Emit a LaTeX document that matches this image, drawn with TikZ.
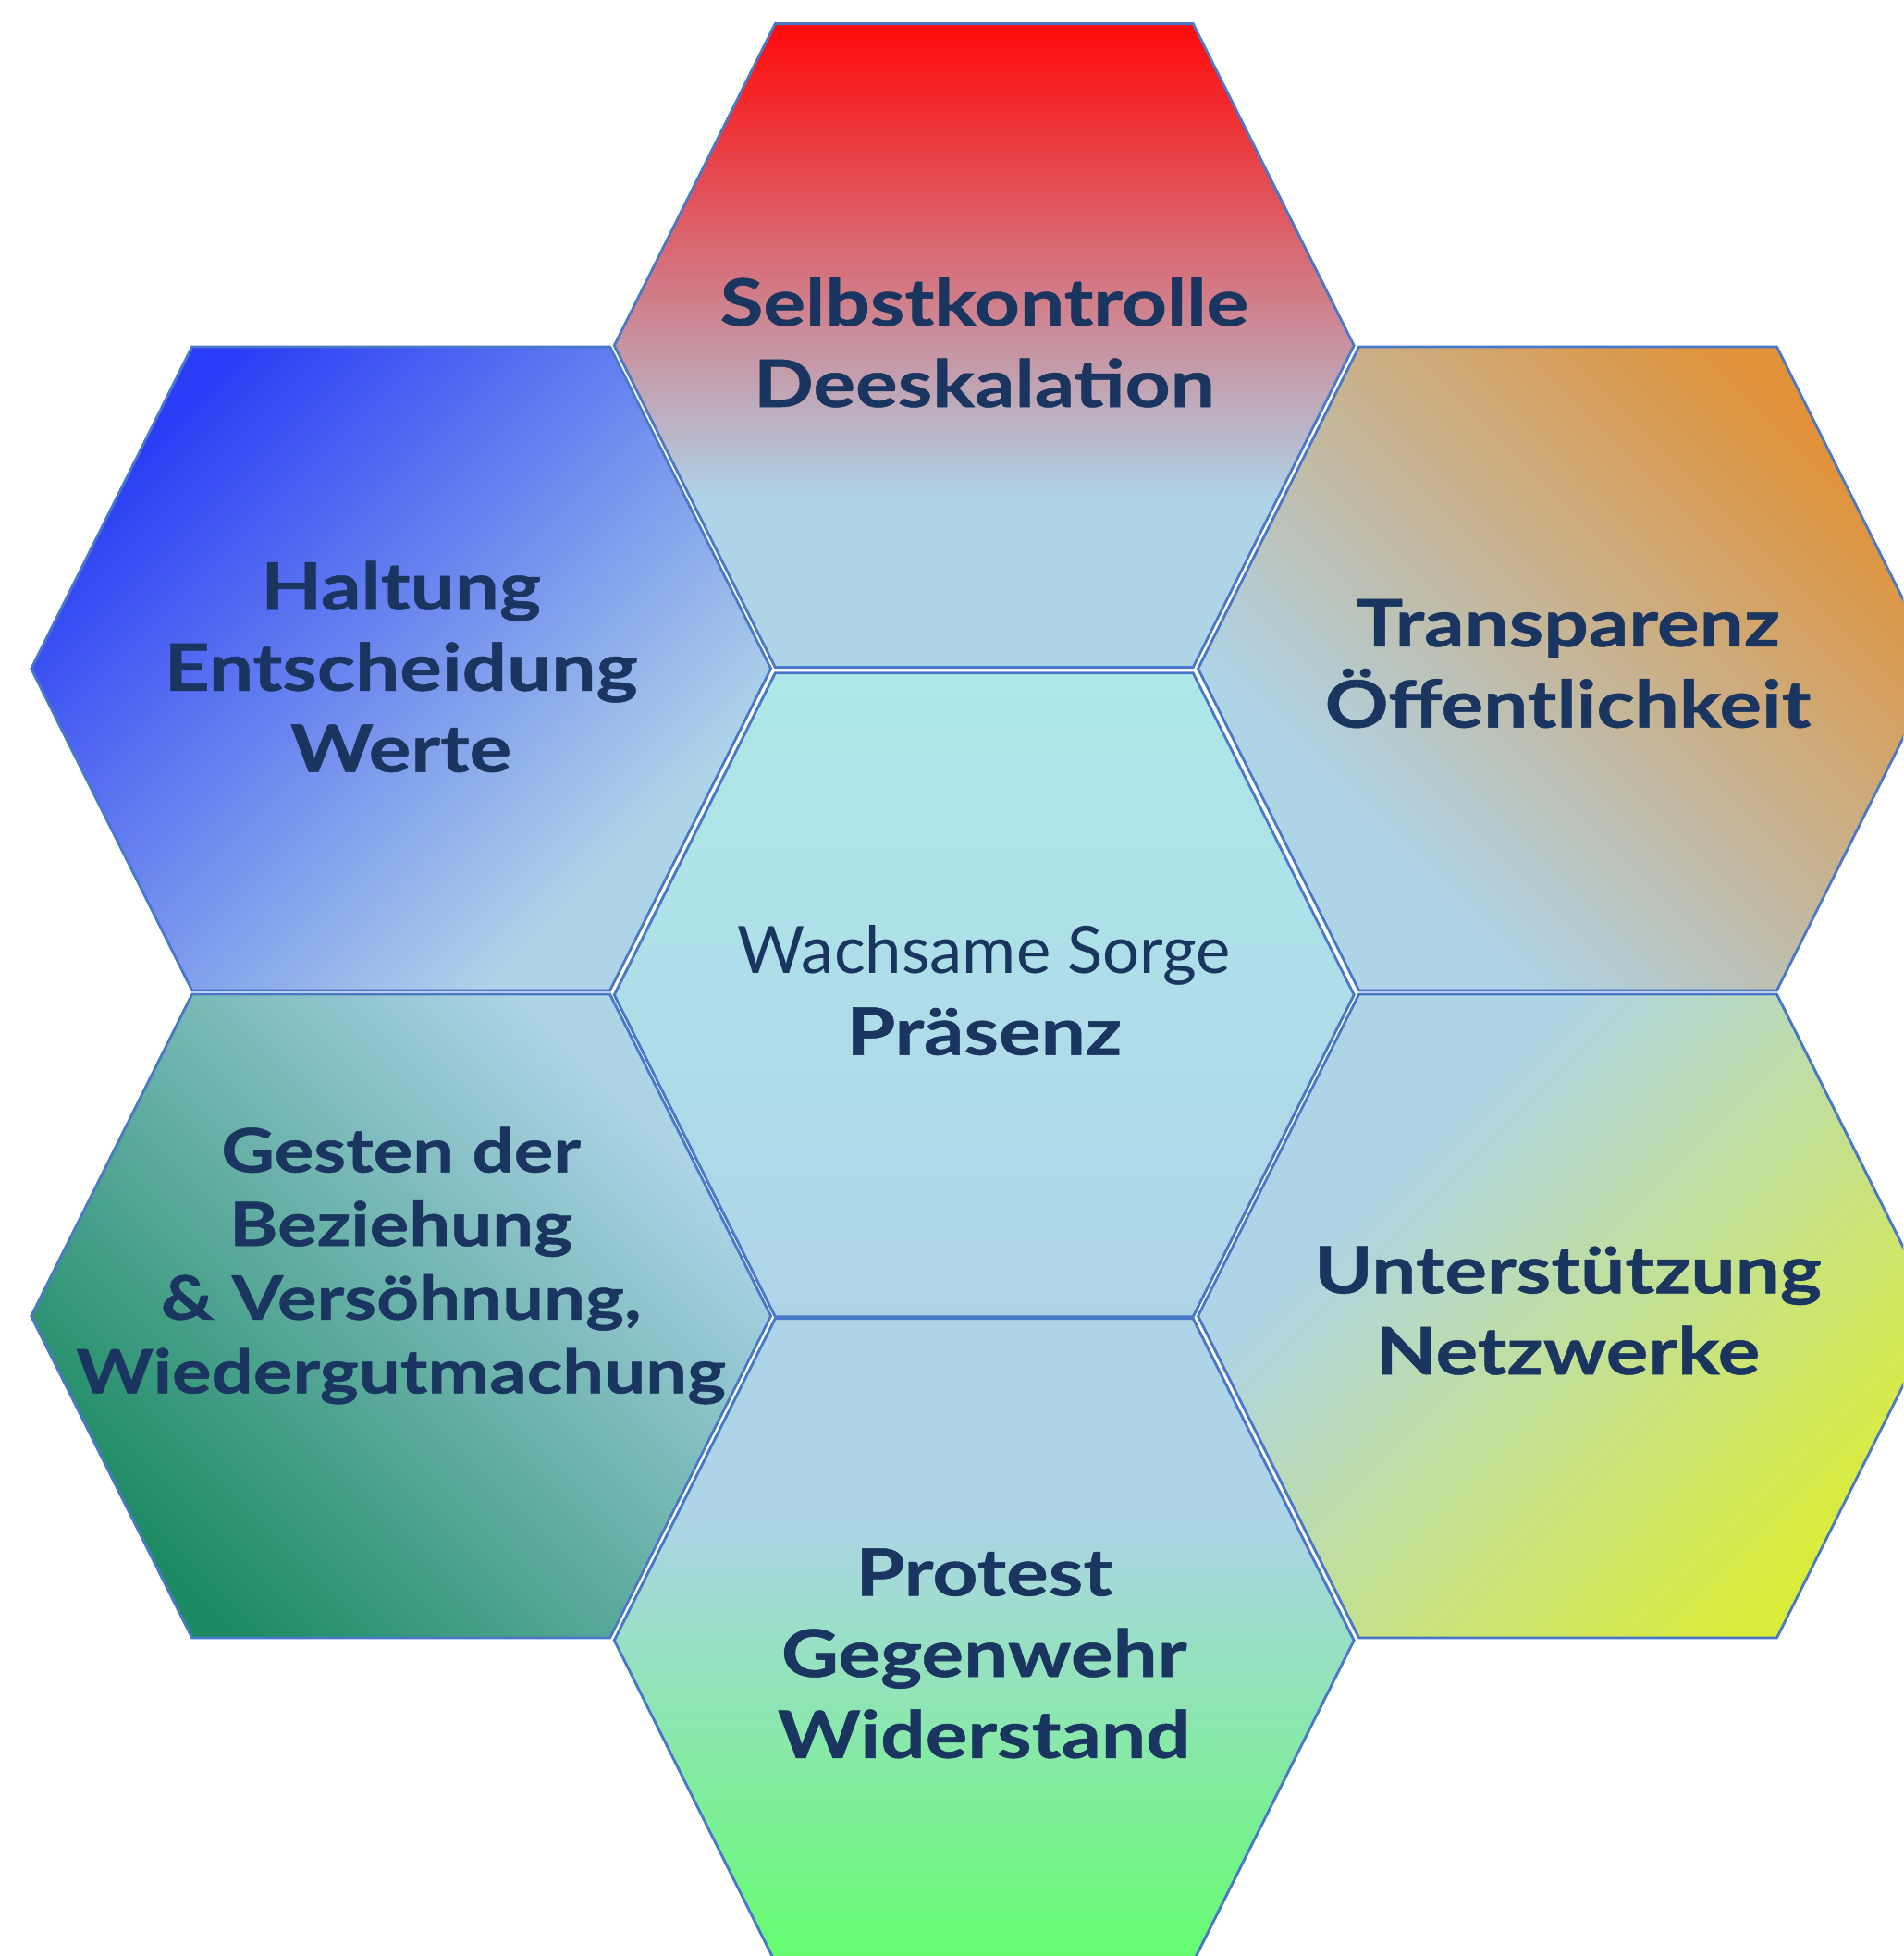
\documentclass[tikz,border=0pt]{standalone}
\usepackage{fontspec}
\setmainfont{Lato}[BoldFeatures={FakeStretch=1.21,FakeBold=0.7}]

\definecolor{hexline}{RGB}{74,120,200}
\definecolor{hexbase}{RGB}{174,212,232}
\definecolor{hexcyan}{RGB}{174,232,232}
\definecolor{hexred}{RGB}{255,8,8}
\definecolor{hexblue}{RGB}{42,60,245}
\definecolor{hexorange}{RGB}{225,145,55}
\definecolor{hexteal}{RGB}{28,138,98}
\definecolor{hexyellow}{RGB}{218,236,58}
\definecolor{hexgreen}{RGB}{100,252,110}
\definecolor{labeltext}{RGB}{26,53,96}

% fades: the path's bounding box maps to 25bp..75bp
\pgfdeclareverticalshading{redfade}{100bp}{color(0bp)=(hexbase); color(38bp)=(hexbase); color(75bp)=(hexred); color(100bp)=(hexred)}
\pgfdeclareverticalshading{bluefade}{100bp}{color(0bp)=(hexbase); color(29bp)=(hexbase); color(75bp)=(hexblue); color(100bp)=(hexblue)}
\pgfdeclareverticalshading{orangefade}{100bp}{color(0bp)=(hexbase); color(31bp)=(hexbase); color(75bp)=(hexorange); color(100bp)=(hexorange)}
\pgfdeclareverticalshading{tealfade}{100bp}{color(0bp)=(hexbase); color(27bp)=(hexbase); color(75bp)=(hexteal); color(100bp)=(hexteal)}
\pgfdeclareverticalshading{yellowfade}{100bp}{color(0bp)=(hexbase); color(33bp)=(hexbase); color(75bp)=(hexyellow); color(100bp)=(hexyellow)}
\pgfdeclareverticalshading{greenfade}{100bp}{color(0bp)=(hexgreen); color(25bp)=(hexgreen); color(60bp)=(hexbase); color(100bp)=(hexbase)}
\pgfdeclareverticalshading{centerfade}{100bp}{color(0bp)=(hexbase); color(25bp)=(hexbase); color(75bp)=(hexcyan); color(100bp)=(hexcyan)}

\newcommand{\hexfont}{\fontsize{14.9pt}{18.5pt}\selectfont\bfseries}
\newcommand{\smallhexfont}{\fontsize{13.9pt}{16.8pt}\selectfont\bfseries}
\newcommand{\hexstrut}{\rule[-0.22em]{0pt}{0.9365em}}

\begin{document}
\begin{tikzpicture}[
    hexcell/.style={draw=hexline, line width=0.6pt},
    hexlabel/.style={align=center, text=labeltext, font=\hexfont, inner sep=0pt,
        execute at begin node=\hexstrut, execute at end node=\hexstrut},
]
    \useasboundingbox (0,0) rectangle (15.26,-15.68);
    \clip (0,0) rectangle (15.26,-15.68);
    \fill[white] (0,0) rectangle (15.26,-15.68);

    \foreach \x/\y/\fade/\ang in {7.89/-2.77/redfade/0, 3.215/-5.36/bluefade/45,
        12.57/-5.36/orangefade/-45, 7.89/-7.975/centerfade/0, 3.215/-10.55/tealfade/135,
        12.57/-10.55/yellowfade/-135, 7.89/-13.15/greenfade/0}
        \shadedraw[hexcell, shading=\fade, shading angle=\ang] (\x,\y) ++(-2.965,0)
            -- ++(1.29,2.58) -- ++(3.35,0) -- ++(1.29,-2.58)
            -- ++(-1.29,-2.58) -- ++(-3.35,0) -- cycle;

    \node[hexlabel] (selbst) at (7.89,-2.80) {Selbstkontrolle\\Deeskalation};
    \node[hexlabel] (haltung) at (3.215,-5.40) {Haltung\\Entscheidung\\Werte};
    \node[hexlabel] (transparenz) at (12.57,-5.375) {Transparenz\\Öffentlichkeit};
    \node[hexlabel] (sorge) at (7.89,-7.995) {{\mdseries Wachsame Sorge}\\Präsenz};
    \node[hexlabel, font=\smallhexfont] (gesten) at (3.215,-10.155) {Gesten der\\Beziehung\\\& Versöhnung,\\Wiedergutmachung};
    \node[hexlabel] (unterst) at (12.57,-10.56) {Unterstützung\\Netzwerke};
    \node[hexlabel] (protest) at (7.89,-13.31) {Protest\\Gegenwehr\\Widerstand};
\end{tikzpicture}
\end{document}
